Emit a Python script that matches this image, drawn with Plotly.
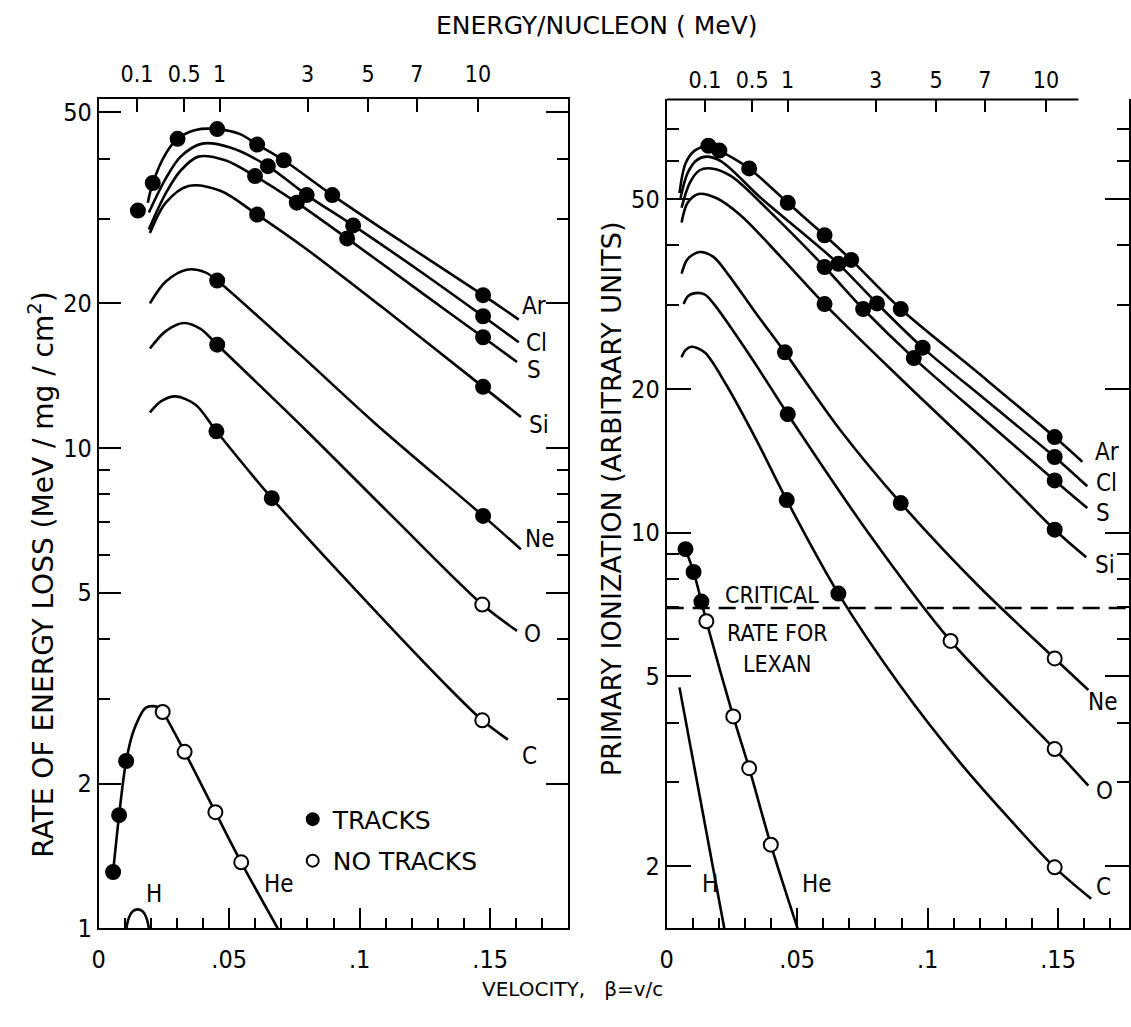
import math
import plotly.graph_objects as go

W, H = 1131, 1027
M_NUCLEON = 931.494  # MeV, converts energy/nucleon to velocity for the top axes

# ---------------- axis tick definitions ----------------
E_TICKS = [0.1, 0.5, 1, 3, 5, 7, 10]
E_TICK_TEXT = ["0.1", "0.5", "1", "3", "5", "7", "10"]
BETA_TICKS = [0, 0.05, 0.10, 0.15]
BETA_TICK_TEXT = ["0", ".05", ".1", ".15"]
LEFT_Y_TICKS = [1, 2, 5, 10, 20, 50]
LEFT_Y_MINOR = [3, 4, 6, 7, 8, 9, 30, 40]
RIGHT_Y_TICKS = [2, 5, 10, 20, 50]
RIGHT_Y_MINOR = [3, 4, 6, 7, 8, 9, 30, 40, 60, 70]
CRITICAL_RATE_LEXAN = 6.95

# ---------------- left panel: rate of energy loss (MeV / mg / cm^2) ----------------
L_AR_B = [0.0188, 0.0207, 0.0257, 0.0302, 0.0371, 0.0454, 0.0542, 0.0607, 0.0709, 0.0895, 0.1169, 0.1473, 0.1610]
L_AR_V = [32.4, 35.6, 41.0, 44.0, 45.9, 46.1, 45.0, 42.8, 39.7, 33.6, 26.7, 20.8, 18.5]
L_AR_TR_B = [0.0150, 0.0207, 0.0302, 0.0454, 0.0607, 0.0709, 0.0895, 0.1473]
L_AR_TR_V = [31.2, 35.6, 44.0, 46.1, 42.8, 39.7, 33.6, 20.8]

L_CL_B = [0.0192, 0.0257, 0.0314, 0.0397, 0.0504, 0.0648, 0.0797, 0.0975, 0.1245, 0.1473, 0.1610]
L_CL_V = [30.9, 36.4, 40.4, 43.0, 42.2, 38.6, 33.6, 29.05, 23.05, 18.8, 16.6]
L_CL_TR_B = [0.0648, 0.0797, 0.0975, 0.1473]
L_CL_TR_V = [38.6, 33.6, 29.05, 18.8]

L_S_B = [0.0192, 0.0257, 0.0314, 0.0382, 0.0485, 0.0599, 0.0759, 0.0952, 0.1245, 0.1473, 0.1603]
L_S_V = [28.5, 33.9, 37.8, 40.4, 39.7, 36.8, 32.4, 27.3, 20.9, 17.0, 15.1]
L_S_TR_B = [0.0599, 0.0759, 0.0952, 0.1473]
L_S_TR_V = [36.8, 32.4, 27.3, 17.0]

L_SI_B = [0.0196, 0.0257, 0.0344, 0.0466, 0.0607, 0.0789, 0.1093, 0.1473, 0.1618]
L_SI_V = [28.0, 32.4, 35.1, 34.3, 30.6, 26.1, 19.5, 13.4, 11.6]
L_SI_TR_B = [0.0607, 0.1473]
L_SI_TR_V = [30.6, 13.4]

L_NE_B = [0.0196, 0.0257, 0.0337, 0.0409, 0.0454, 0.0774, 0.1055, 0.1473, 0.1618]
L_NE_V = [20.0, 22.2, 23.5, 23.2, 22.3, 15.6, 11.3, 7.22, 6.15]
L_NE_TR_B = [0.0454, 0.1473]
L_NE_TR_V = [22.3, 7.22]

L_O_B = [0.0196, 0.0257, 0.0325, 0.0390, 0.0454, 0.0789, 0.1131, 0.1470, 0.1603]
L_O_V = [16.1, 17.5, 18.2, 17.7, 16.4, 10.95, 7.15, 4.72, 4.16]
L_O_TR_B = [0.0454]
L_O_TR_V = [16.4]
L_O_NT_B = [0.1470]
L_O_NT_V = [4.72]

L_C_B = [0.0196, 0.0238, 0.0295, 0.0371, 0.0451, 0.0663, 0.0979, 0.1321, 0.1470, 0.1568]
L_C_V = [11.85, 12.5, 12.8, 12.3, 10.83, 7.86, 5.1, 3.25, 2.71, 2.47]
L_C_TR_B = [0.0451, 0.0663]
L_C_TR_V = [10.83, 7.86]
L_C_NT_B = [0.1470]
L_C_NT_V = [2.71]

L_HE_B = [0.0055, 0.0078, 0.0105, 0.0135, 0.0181, 0.0226, 0.0245, 0.0329, 0.0447, 0.0546, 0.0686]
L_HE_V = [1.31, 1.72, 2.23, 2.59, 2.88, 2.89, 2.82, 2.33, 1.745, 1.372, 1.0]
L_HE_TR_B = [0.0055, 0.0078, 0.0105]
L_HE_TR_V = [1.31, 1.72, 2.23]
L_HE_NT_B = [0.0245, 0.0329, 0.0447, 0.0546]
L_HE_NT_V = [2.82, 2.33, 1.745, 1.372]

L_H_B = [0.0103, 0.0115, 0.0130, 0.0149, 0.0168, 0.0183, 0.0195]
L_H_V = [0.98, 1.05, 1.085, 1.095, 1.085, 1.05, 0.98]

# ---------------- right panel: primary ionization (arbitrary units) ----------------
R_AR_B = [0.0049, 0.0072, 0.0107, 0.0160, 0.0202, 0.0316, 0.0464, 0.0605, 0.0707, 0.0897, 0.1198, 0.1487, 0.1593]
R_AR_V = [51.4, 59.3, 63.1, 64.6, 63.1, 57.9, 49.05, 41.95, 37.25, 29.4, 21.5, 15.85, 14.07]
R_AR_TR_B = [0.0160, 0.0202, 0.0316, 0.0464, 0.0605, 0.0707, 0.0897, 0.1487]
R_AR_TR_V = [64.6, 63.1, 57.9, 49.05, 41.95, 37.25, 29.4, 15.85]

R_CL_B = [0.0053, 0.0080, 0.0114, 0.0152, 0.0209, 0.0361, 0.0513, 0.0658, 0.0806, 0.0981, 0.1236, 0.1487, 0.1612]
R_CL_V = [50.2, 56.6, 60.2, 61.3, 59.9, 50.2, 42.75, 36.55, 30.2, 24.4, 18.7, 14.4, 12.5]
R_CL_TR_B = [0.0658, 0.0806, 0.0981, 0.1487]
R_CL_TR_V = [36.55, 30.2, 24.4, 14.4]

R_S_B = [0.0057, 0.0088, 0.0126, 0.0171, 0.0247, 0.0399, 0.0605, 0.0753, 0.0947, 0.1236, 0.1487, 0.1612]
R_S_V = [47.9, 53.95, 57.4, 57.9, 55.8, 46.8, 36.0, 29.4, 23.2, 16.9, 12.86, 11.26]
R_S_TR_B = [0.0605, 0.0753, 0.0947, 0.1487]
R_S_TR_V = [36.0, 29.4, 23.2, 12.86]

R_SI_B = [0.0057, 0.0080, 0.0122, 0.0190, 0.0285, 0.0437, 0.0605, 0.0894, 0.1198, 0.1487, 0.1608]
R_SI_V = [44.6, 49.05, 51.2, 50.2, 46.1, 37.8, 30.1, 21.07, 14.62, 10.14, 8.88]
R_SI_TR_B = [0.0605, 0.1487]
R_SI_TR_V = [30.1, 10.14]

R_NE_B = [0.0057, 0.0080, 0.0126, 0.0179, 0.0236, 0.0342, 0.0453, 0.0665, 0.0897, 0.1198, 0.1487, 0.1616]
R_NE_V = [34.85, 37.4, 38.7, 37.8, 34.7, 28.8, 23.85, 16.4, 11.53, 7.70, 5.45, 4.68]
R_NE_TR_B = [0.0453, 0.0897]
R_NE_TR_V = [23.85, 11.53]
R_NE_NT_B = [0.1487]
R_NE_NT_V = [5.45]

R_O_B = [0.0065, 0.0080, 0.0103, 0.0145, 0.0179, 0.0323, 0.0464, 0.0780, 0.1088, 0.1487, 0.1616]
R_O_V = [30.1, 31.2, 31.7, 31.55, 30.2, 23.3, 17.7, 9.86, 5.93, 3.52, 2.95]
R_O_TR_B = [0.0464]
R_O_TR_V = [17.7]
R_O_NT_B = [0.1088, 0.1487]
R_O_NT_V = [5.93, 3.52]

R_C_B = [0.0057, 0.0072, 0.0095, 0.0145, 0.0228, 0.0342, 0.0460, 0.0658, 0.0894, 0.1122, 0.1312, 0.1487, 0.1627]
R_C_V = [23.3, 24.1, 24.5, 23.85, 20.4, 15.7, 11.7, 7.45, 4.79, 3.31, 2.52, 1.99, 1.71]
R_C_TR_B = [0.0460, 0.0658]
R_C_TR_V = [11.7, 7.45]
R_C_NT_B = [0.1487]
R_C_NT_V = [1.99]

R_HE_B = [0.0072, 0.0103, 0.0133, 0.0152, 0.0255, 0.0316, 0.0399, 0.0502]
R_HE_V = [9.23, 8.27, 7.17, 6.52, 4.12, 3.21, 2.22, 1.48]
R_HE_TR_B = [0.0072, 0.0103, 0.0133]
R_HE_TR_V = [9.23, 8.27, 7.17]
R_HE_NT_B = [0.0152, 0.0255, 0.0316, 0.0399]
R_HE_NT_V = [6.52, 4.12, 3.21, 2.22]

R_H_B = [0.0049, 0.0221]
R_H_V = [4.74, 1.48]

# ---------------- helpers ----------------
def beta_of_energy(e_per_nucleon):
    gamma = 1.0 + e_per_nucleon / M_NUCLEON
    return math.sqrt(1.0 - 1.0 / gamma ** 2)


def px_x(px):
    return px / W


def px_y(py):
    return 1.0 - py / H


FONT = "DejaVu Sans Condensed, DejaVu Sans, sans-serif"
WIDE = "DejaVu Sans, sans-serif"
LINE_W = 2.6
MSIZE = 14

fig = go.Figure()


def add_curve(xb, yv, xa, ya, smooth=True):
    fig.add_trace(go.Scatter(
        x=xb, y=yv, mode="lines", xaxis=xa, yaxis=ya, showlegend=False,
        hoverinfo="skip",
        line=dict(color="black", width=LINE_W, shape="spline" if smooth else "linear",
                  smoothing=0.9),
    ))


def add_marks(xb, yv, xa, ya, filled):
    fig.add_trace(go.Scatter(
        x=xb, y=yv, mode="markers", xaxis=xa, yaxis=ya, showlegend=False,
        hoverinfo="skip", cliponaxis=False,
        marker=dict(symbol="circle", size=MSIZE,
                    color="black" if filled else "white",
                    line=dict(color="black", width=2)),
    ))


# left panel curves
left_sets = [
    (L_AR_B, L_AR_V, L_AR_TR_B, L_AR_TR_V, [], []),
    (L_CL_B, L_CL_V, L_CL_TR_B, L_CL_TR_V, [], []),
    (L_S_B, L_S_V, L_S_TR_B, L_S_TR_V, [], []),
    (L_SI_B, L_SI_V, L_SI_TR_B, L_SI_TR_V, [], []),
    (L_NE_B, L_NE_V, L_NE_TR_B, L_NE_TR_V, [], []),
    (L_O_B, L_O_V, L_O_TR_B, L_O_TR_V, L_O_NT_B, L_O_NT_V),
    (L_C_B, L_C_V, L_C_TR_B, L_C_TR_V, L_C_NT_B, L_C_NT_V),
    (L_HE_B, L_HE_V, L_HE_TR_B, L_HE_TR_V, L_HE_NT_B, L_HE_NT_V),
]
add_curve(L_H_B, L_H_V, "x", "y")
for b, v, tb, tv, nb, nv in left_sets:
    add_curve(b, v, "x", "y")
for b, v, tb, tv, nb, nv in left_sets:
    if tb:
        add_marks(tb, tv, "x", "y", True)
    if nb:
        add_marks(nb, nv, "x", "y", False)

# right panel curves
right_sets = [
    (R_AR_B, R_AR_V, R_AR_TR_B, R_AR_TR_V, [], []),
    (R_CL_B, R_CL_V, R_CL_TR_B, R_CL_TR_V, [], []),
    (R_S_B, R_S_V, R_S_TR_B, R_S_TR_V, [], []),
    (R_SI_B, R_SI_V, R_SI_TR_B, R_SI_TR_V, [], []),
    (R_NE_B, R_NE_V, R_NE_TR_B, R_NE_TR_V, R_NE_NT_B, R_NE_NT_V),
    (R_O_B, R_O_V, R_O_TR_B, R_O_TR_V, R_O_NT_B, R_O_NT_V),
    (R_C_B, R_C_V, R_C_TR_B, R_C_TR_V, R_C_NT_B, R_C_NT_V),
    (R_HE_B, R_HE_V, R_HE_TR_B, R_HE_TR_V, R_HE_NT_B, R_HE_NT_V),
]
add_curve(R_H_B, R_H_V, "x2", "y2", smooth=False)
for b, v, tb, tv, nb, nv in right_sets:
    add_curve(b, v, "x2", "y2")

# critical rate for Lexan (dashed)
fig.add_trace(go.Scatter(
    x=[0, 0.18], y=[CRITICAL_RATE_LEXAN, CRITICAL_RATE_LEXAN], mode="lines",
    xaxis="x2", yaxis="y2", showlegend=False, hoverinfo="skip",
    line=dict(color="black", width=2.4, dash="17px,9px"),
))
for b, v, tb, tv, nb, nv in right_sets:
    if tb:
        add_marks(tb, tv, "x2", "y2", True)
    if nb:
        add_marks(nb, nv, "x2", "y2", False)

# empty traces so that the energy (top) axes are drawn
fig.add_trace(go.Scatter(x=[None], y=[None], xaxis="x3", yaxis="y",
                         showlegend=False, hoverinfo="skip"))
fig.add_trace(go.Scatter(x=[None], y=[None], xaxis="x4", yaxis="y2",
                         showlegend=False, hoverinfo="skip"))

# legend entries
fig.add_trace(go.Scatter(x=[None], y=[None], mode="markers", name="TRACKS",
                         xaxis="x", yaxis="y", legendgroup="a",
                         marker=dict(symbol="circle", size=MSIZE, color="black",
                                     line=dict(color="black", width=2))))
fig.add_trace(go.Scatter(x=[None], y=[None], mode="markers", name="NO TRACKS",
                         xaxis="x", yaxis="y", legendgroup="b",
                         marker=dict(symbol="circle", size=MSIZE, color="white",
                                     line=dict(color="black", width=2))))

# ---------------- geometry ----------------
Y_DOM = [(H - 942) / H, (H - 100) / H]
LX_DOM = [92.5 / W, 566 / W]
RX_DOM = [665 / W, 1.0]
PX_PER_BETA = 2630.0
L_X_RANGE = [0, (566 - 92.5) / PX_PER_BETA]
R_X_RANGE = [0, (W - 665) / PX_PER_BETA]
L_Y_RANGE = [0, 842 / 488.0]
R_Y_RANGE = [1 + (540 - 942) / 485.0, 1 + (540 - 100) / 485.0]

tick_font = dict(family=FONT, size=25, color="black")
top_font = dict(family=FONT, size=23, color="black")

beta_x_common = dict(
    tickmode="array", tickvals=BETA_TICKS, ticktext=BETA_TICK_TEXT,
    ticks="inside", ticklen=20, tickwidth=2, tickcolor="black",
    showline=True, linecolor="black", linewidth=2, mirror=False,
    showgrid=False, zeroline=False, tickfont=tick_font, ticklabelstandoff=8,
    minor=dict(ticks="inside", dtick=0.01, tick0=0, ticklen=10, tickwidth=1.6,
               tickcolor="black", showgrid=False),
)

e_vals = [beta_of_energy(e) for e in E_TICKS]
energy_x_common = dict(
    side="top", tickmode="array", tickvals=e_vals, ticktext=E_TICK_TEXT,
    ticks="inside", ticklen=13, tickwidth=2, tickcolor="black",
    showgrid=False, zeroline=False, tickfont=top_font, ticklabelstandoff=6,
)

fig.update_layout(
    width=W, height=H,
    margin=dict(l=0, r=0, t=0, b=0),
    paper_bgcolor="white", plot_bgcolor="white",
    font=dict(family=FONT, color="black"),
    xaxis=dict(domain=LX_DOM, range=L_X_RANGE, anchor="y", **beta_x_common),
    xaxis3=dict(overlaying="x", anchor="y", range=L_X_RANGE, showline=True,
                linecolor="black", linewidth=2, **energy_x_common),
    yaxis=dict(domain=Y_DOM, type="log", range=L_Y_RANGE, anchor="x",
               tickmode="array", tickvals=LEFT_Y_TICKS,
               ticktext=[str(t) for t in LEFT_Y_TICKS],
               ticks="inside", ticklen=22, tickwidth=2, tickcolor="black",
               showline=True, linecolor="black", linewidth=2, mirror="ticks",
               showgrid=False, zeroline=False, tickfont=tick_font,
               minor=dict(ticks="inside", tickmode="array", tickvals=LEFT_Y_MINOR,
                          ticklen=11, tickwidth=1.6, tickcolor="black", showgrid=False)),
    xaxis2=dict(domain=RX_DOM, range=R_X_RANGE, anchor="y2", **beta_x_common),
    xaxis4=dict(overlaying="x2", anchor="y2", range=R_X_RANGE, showline=False,
                **energy_x_common),
    yaxis2=dict(domain=Y_DOM, type="log", range=R_Y_RANGE, anchor="x2",
                tickmode="array", tickvals=RIGHT_Y_TICKS,
                ticktext=[str(t) for t in RIGHT_Y_TICKS],
                ticks="inside", ticklen=24, tickwidth=2, tickcolor="black",
                showline=True, linecolor="black", linewidth=2, mirror="ticks",
                showgrid=False, zeroline=False, tickfont=tick_font,
                minor=dict(ticks="inside", tickmode="array", tickvals=RIGHT_Y_MINOR,
                           ticklen=12, tickwidth=1.6, tickcolor="black", showgrid=False)),
    showlegend=True,
    legend=dict(x=px_x(288), y=px_y(808), xanchor="left", yanchor="top",
                bgcolor="rgba(0,0,0,0)", borderwidth=0,
                font=dict(family=WIDE, size=25, color="black"),
                tracegroupgap=6, itemsizing="constant"),
)

# partial top frame line of the right panel
fig.add_shape(type="line", xref="paper", yref="paper",
              x0=px_x(665), x1=px_x(1080), y0=px_y(100), y1=px_y(100),
              line=dict(color="black", width=2))

# ---------------- text ----------------
ann = []


def label(text, px, py, size=23, anchor="left", angle=0, fam=FONT):
    ann.append(dict(text=text, x=px_x(px), y=px_y(py), xref="paper", yref="paper",
                    showarrow=False, xanchor=anchor, yanchor="middle",
                    textangle=angle, font=dict(family=fam, size=size, color="black")))


# curve labels, left panel
for t, px, py in [("Ar", 517, 310), ("Cl", 521, 347), ("S", 522, 375), ("Si", 524, 431),
                  ("Ne", 520, 547), ("O", 519, 643), ("C", 517, 767),
                  ("He", 257, 897), ("H", 138, 907)]:
    label(t, px, py, size=24)
# curve labels, right panel
for t, px, py in [("Ar", 1095, 458), ("Cl", 1096, 490), ("S", 1096, 520), ("Si", 1095, 573),
                  ("Ne", 1088, 712), ("O", 1096, 803), ("C", 1096, 900),
                  ("H", 699, 897), ("He", 799, 897)]:
    label(t, px, py, size=24)

label("CRITICAL", 722, 603, size=23)
label("RATE FOR", 724, 642, size=23)
label("LEXAN", 740, 674, size=23)

label("ENERGY/NUCLEON ( MeV)", 595, 25, size=25, anchor="center", fam=WIDE)
label("VELOCITY,\u00a0\u00a0 \u03b2=v/c", 570, 1004, size=20, anchor="center", fam=WIDE)
label("RATE OF ENERGY LOSS (MeV / mg / cm<sup>2</sup>)", 35, 583, size=28,
      anchor="center", angle=-90, fam=WIDE)
label("PRIMARY IONIZATION (ARBITRARY UNITS)", 609, 506, size=27,
      anchor="center", angle=-90, fam=WIDE)

fig.update_layout(annotations=ann)

fig.write_html("out.html")
